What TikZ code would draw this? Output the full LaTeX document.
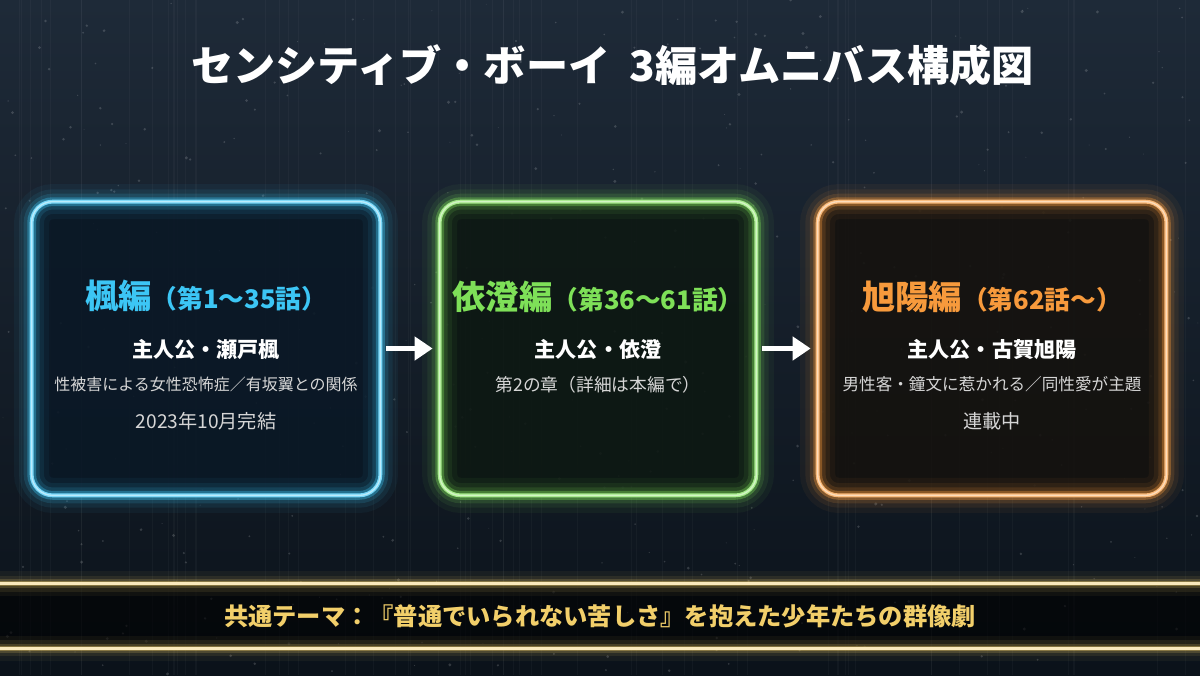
\documentclass[tikz,border=0pt]{standalone}
\usepackage{fontspec}
\setmainfont{Noto Sans CJK JP}
\usetikzlibrary{arrows.meta,positioning}
\definecolor{bgtop}{HTML}{1E2A38}
\definecolor{bgbot}{HTML}{0B121A}
\definecolor{kaecol}{HTML}{3CC6F5}
\definecolor{izucol}{HTML}{7EE058}
\definecolor{asacol}{HTML}{F79A3C}
\definecolor{goldcol}{HTML}{F2CF6A}
\definecolor{desccol}{HTML}{D6D6D6}
\definecolor{kaefill}{HTML}{0A1826}
\definecolor{izufill}{HTML}{0D1812}
\definecolor{asafill}{HTML}{15120E}
\newcommand{\neonframe}[2]{%
  \foreach \lw/\op in {20/0.05,14/0.08,9/0.14,5/0.35}
    \draw[#2, line width=\lw pt, opacity=\op, rounded corners=0.42cm] (#1.south west) rectangle (#1.north east);
  \draw[#2!70!white, line width=2.2pt, rounded corners=0.42cm] (#1.south west) rectangle (#1.north east);
  \draw[#2!35!white, line width=0.8pt, rounded corners=0.42cm] (#1.south west) rectangle (#1.north east);
}
\newcommand{\neonline}[2]{%
  \foreach \lw/\op in {14/0.05,9/0.09,5/0.18,3/0.35}
    \draw[goldcol, line width=\lw pt, opacity=\op] (#1) -- (#2);
  \draw[goldcol!45!white, line width=1.4pt] (#1) -- (#2);
}
\begin{document}
\begin{tikzpicture}[
  box/.style={rounded corners=0.42cm, minimum height=5.86cm, inner sep=0pt, fill opacity=0.88},
  hero/.style={text=white, font=\bfseries\fontsize{12}{14}\selectfont},
  note/.style={text=desccol, font=\fontsize{9.1}{11}\selectfont},
  flow/.style={-{Triangle[length=0.36cm,width=0.46cm]}, line width=0.1cm, white, shorten <=0.12cm, shorten >=0.14cm}]
\useasboundingbox (0,0) rectangle (24,13.5);
% background and rain
\fill[top color=bgtop, bottom color=bgbot] (0,0) rectangle (24,13.5);
\pgfmathsetseed{42}
\foreach \i in {1,...,60}{
  \pgfmathsetmacro{\rx}{24*rnd}
  \draw[white, opacity=0.03, line width=0.6pt] (\rx,0) -- (\rx,13.5);
}
\foreach \i in {1,...,450}{
  \pgfmathsetmacro{\rx}{24*rnd}
  \pgfmathsetmacro{\ry}{13.5*rnd}
  \pgfmathsetmacro{\rr}{0.008+0.025*rnd}
  \fill[white, opacity=0.16] (\rx,\ry) circle (\rr);
}
% title
\node[text=white, font=\bfseries\fontsize{24}{28}\selectfont] (title) at (12.25,12.2) {センシティブ・ボーイ\ \ 3編オムニバス構成図};
% three arcs
\node[box, minimum width=6.96cm, fill=kaefill] (kae) at (4.12,6.53) {};
\node[box, minimum width=6.32cm, fill=izufill] (izu) at (11.96,6.53) {};
\node[box, minimum width=6.96cm, fill=asafill] (asa) at (19.84,6.53) {};
\neonframe{kae}{kaecol}
\neonframe{izu}{izucol}
\neonframe{asa}{asacol}
% kaede
\node[text=kaecol] (kaehead) at ([yshift=-1.9cm]kae.north) {{\bfseries\fontsize{19}{21}\selectfont 楓編}{\bfseries\fontsize{14.6}{17}\selectfont （第1〜35話）}};
\node[hero] (kaehero) at ([yshift=-2.96cm]kae.north) {主人公・瀬戸楓};
\node[note] (kaenote) at ([yshift=-3.66cm]kae.north) {性被害による女性恐怖症／有坂翼との関係};
\node[note, font=\fontsize{10.9}{12}\selectfont] (kaestat) at ([yshift=-4.4cm]kae.north) {2023年10月完結};
% izumi
\node[text=izucol] (izuhead) at ([yshift=-1.9cm]izu.north) {{\bfseries\fontsize{19}{21}\selectfont 依澄編}{\bfseries\fontsize{14.6}{17}\selectfont （第36〜61話）}};
\node[hero] (izuhero) at ([yshift=-2.96cm]izu.north) {主人公・依澄};
\node[note, font=\fontsize{10.1}{12}\selectfont] (izunote) at ([yshift=-3.66cm]izu.north) {第2の章（詳細は本編で）};
% asahi
\node[text=asacol] (asahead) at ([yshift=-1.9cm]asa.north) {{\bfseries\fontsize{19}{21}\selectfont 旭陽編}{\bfseries\fontsize{14.6}{17}\selectfont （第62話〜）}};
\node[hero] (asahero) at ([yshift=-2.96cm]asa.north) {主人公・古賀旭陽};
\node[note, font=\fontsize{9.45}{11}\selectfont] (asanote) at ([yshift=-3.66cm]asa.north) {男性客・鐘文に惹かれる／同性愛が主題};
\node[note, font=\fontsize{10.9}{12}\selectfont] (asastat) at ([yshift=-4.4cm]asa.north) {連載中};
% arrows
\draw[flow] (kae) -- (izu);
\draw[flow] (izu) -- (asa);
% theme band
\node[minimum width=24cm, minimum height=1.28cm, fill=black, fill opacity=0.6, text opacity=1, text=goldcol, font=\bfseries\fontsize{13.8}{16}\selectfont] (band) at (12,1.18) {共通テーマ：『普通でいられない苦しさ』を抱えた少年たちの群像劇};
\neonline{band.north west}{band.north east}
\neonline{band.south west}{band.south east}
\end{tikzpicture}
\end{document}
